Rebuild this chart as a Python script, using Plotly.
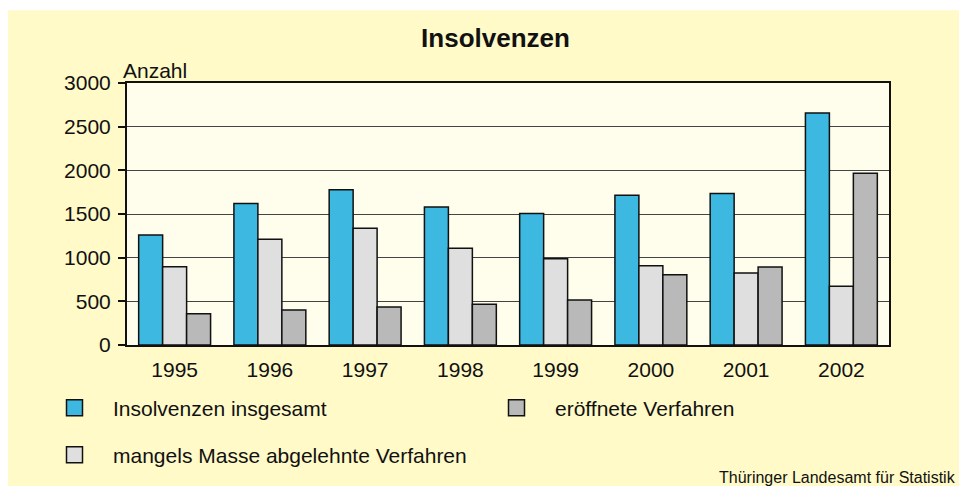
import plotly.graph_objects as go

years = ["1995", "1996", "1997", "1998", "1999", "2000", "2001", "2002"]
insgesamt = [1260, 1621, 1777, 1580, 1507, 1716, 1735, 2657]
mangels_masse = [896, 1211, 1336, 1108, 987, 907, 824, 672]
eroeffnet = [357, 402, 436, 467, 516, 805, 892, 1967]
y_ticks = [0, 500, 1000, 1500, 2000, 2500, 3000]

# page has an 8px body margin, so the figure is drawn 8px right/down
OFF = 8
W, H = 967 - OFF, 486 - OFF
L, R, T, B = 119, 78, 75, 140
pw, ph = W - L - R, H - T - B


def px_x(px):  # px: reference screen x
    return (px - OFF - L) / pw


def px_y(py):  # py: reference screen y
    return (H - B - (py - OFF)) / ph


FONT = "Arial, Liberation Sans, sans-serif"
EDGE = "#111111"
line = dict(color=EDGE, width=1.5)

series = [
    ("Insolvenzen insgesamt", insgesamt, "#3DB8E0", "legend"),
    ("mangels Masse abgelehnte Verfahren", mangels_masse, "#DFDFDF", "legend3"),
    ("eröffnete Verfahren", eroeffnet, "#B9B9B9", "legend2"),
]

fig = go.Figure()
for name, vals, color, leg in series:
    fig.add_trace(go.Bar(x=years, y=vals, name=name, showlegend=False,
                         marker=dict(color=color, line=line)))
# legend keys (larger square swatches, no data drawn)
for name, vals, color, leg in series:
    fig.add_trace(go.Scatter(x=[None], y=[None], mode="markers", name=name,
                             legend=leg, showlegend=True, hoverinfo="skip",
                             marker=dict(symbol="square", size=16, color=color,
                                         line=dict(color=EDGE, width=1.5))))

legend_common = dict(orientation="h", xref="paper", yref="paper",
                     xanchor="left", yanchor="middle", bgcolor="rgba(0,0,0,0)",
                     font=dict(family=FONT, size=21, color="#111111"),
                     itemwidth=67, itemsizing="trace", visible=True)

fig.update_layout(
    width=W, height=H,
    margin=dict(l=L, r=R, t=T, b=B, pad=0),
    paper_bgcolor="#FFFAC8",
    plot_bgcolor="#FFFDEC",
    showlegend=True,
    barmode="group", bargap=0.245, bargroupgap=0,
    font=dict(family=FONT, size=21, color="#111111"),
    title=dict(text="<b>Insolvenzen</b>", x=(495.5 - OFF) / W, xanchor="center",
               y=1 - (38 - OFF) / H, yanchor="middle", xref="container", yref="container",
               font=dict(family=FONT, size=26, color="#111111")),
    legend=dict(**legend_common, x=px_x(113 - 77), y=px_y(408)),
    legend2=dict(**legend_common, x=px_x(555 - 77), y=px_y(408)),
    legend3=dict(**legend_common, x=px_x(113 - 77), y=px_y(455)),
    xaxis=dict(showline=True, linecolor=EDGE, linewidth=2, mirror=True,
               ticks="", showgrid=False, ticklabelstandoff=5,
               tickfont=dict(size=21, color="#111111")),
    yaxis=dict(range=[0, 3000], tickvals=y_ticks, ticktext=[str(v) for v in y_ticks],
               showline=True, linecolor=EDGE, linewidth=2, mirror=True,
               ticks="outside", ticklen=7, tickcolor=EDGE, tickwidth=1.5,
               ticklabelstandoff=3,
               showgrid=True, gridcolor="#444444", gridwidth=1.2, zeroline=False,
               tickfont=dict(size=21, color="#111111")),
    shapes=[dict(type="rect", xref="paper", yref="paper", layer="below",
                 x0=px_x(0), x1=px_x(967), y0=px_y(0), y1=px_y(10),
                 fillcolor="white", line=dict(width=0))],
    annotations=[
        dict(text="Anzahl", xref="paper", yref="paper", x=px_x(121), y=px_y(70),
             xanchor="left", yanchor="middle", showarrow=False,
             font=dict(family=FONT, size=21, color="#111111")),
        dict(text="Thüringer Landesamt für Statistik", xref="paper", yref="paper",
             x=px_x(958), y=px_y(479), xanchor="right", yanchor="middle", showarrow=False,
             font=dict(family=FONT, size=16, color="#111111")),
    ],
)

fig.write_html("out.html")
